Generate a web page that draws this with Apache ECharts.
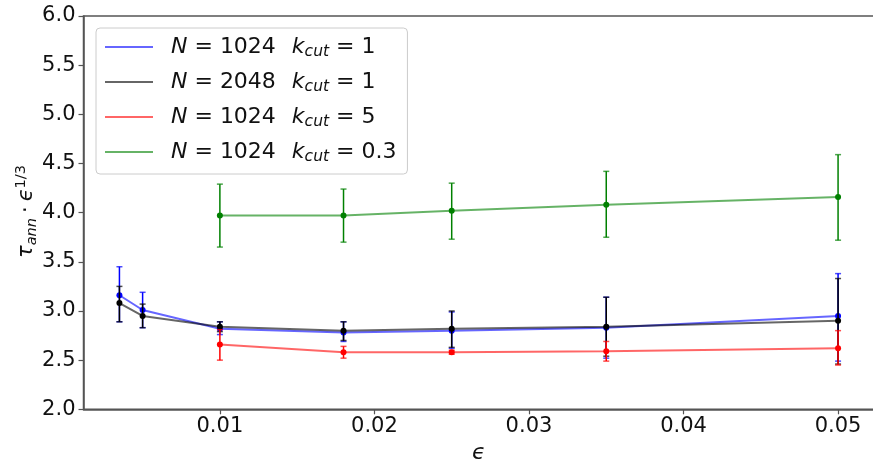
<!DOCTYPE html>
<html><head><meta charset="utf-8">
<script src="https://cdn.jsdelivr.net/npm/echarts@6/dist/echarts.min.js"></script>
<style>html,body{margin:0;padding:0;background:#fff}#c{width:873px;height:461px}</style>
</head><body><div id="c"></div>
<script>
// x values (epsilon)
const eps = [0.0035, 0.005, 0.01, 0.018, 0.025, 0.035, 0.05];
const epsShort = [0.01, 0.018, 0.025, 0.035, 0.05];
// N=1024, k_cut=1
const n1024k1 = [3.16, 3.01, 2.82, 2.78, 2.80, 2.83, 2.95];
const n1024k1Lo = [2.89, 2.83, 2.76, 2.69, 2.62, 2.52, 2.49];
const n1024k1Hi = [3.45, 3.19, 2.89, 2.89, 2.99, 3.14, 3.38];
// N=2048, k_cut=1
const n2048k1 = [3.08, 2.95, 2.84, 2.80, 2.82, 2.84, 2.90];
const n2048k1Lo = [2.89, 2.83, 2.79, 2.70, 2.63, 2.54, 2.46];
const n2048k1Hi = [3.25, 3.07, 2.89, 2.89, 3.00, 3.14, 3.33];
// N=1024, k_cut=5
const n1024k5 = [2.66, 2.58, 2.58, 2.59, 2.62];
const n1024k5Lo = [2.50, 2.52, 2.56, 2.49, 2.45];
const n1024k5Hi = [2.81, 2.64, 2.60, 2.69, 2.80];
// N=1024, k_cut=0.3
const n1024k03 = [3.97, 3.97, 4.02, 4.08, 4.16];
const n1024k03Lo = [3.65, 3.70, 3.73, 3.75, 3.72];
const n1024k03Hi = [4.29, 4.24, 4.30, 4.42, 4.59];
// tick labels
const xTicks = [0.01, 0.02, 0.03, 0.04, 0.05];
const yMin = 2.0, yMax = 6.0, yStep = 0.5;

const FONT = 'DejaVu Sans';
const defs = [
  {name:'a', label:'1024', k:'1', x:eps, y:n1024k1, lo:n1024k1Lo, hi:n1024k1Hi, mk:'#0000ff', ln:'rgba(0,0,255,0.6)', lg:'#6666ff', er:'#0000ff'},
  {name:'b', label:'2048', k:'1', x:eps, y:n2048k1, lo:n2048k1Lo, hi:n2048k1Hi, mk:'#000000', ln:'rgba(0,0,0,0.6)', lg:'#666666', er:'#000000'},
  {name:'c', label:'1024', k:'5', x:epsShort, y:n1024k5, lo:n1024k5Lo, hi:n1024k5Hi, mk:'#ff0000', ln:'rgba(255,0,0,0.6)', lg:'#ff6666', er:'#ff0000'},
  {name:'d', label:'1024', k:'0.3', x:epsShort, y:n1024k03, lo:n1024k03Lo, hi:n1024k03Hi, mk:'#008000', ln:'rgba(0,128,0,0.6)', lg:'#66b366', er:'#008000'}
];

function errRender(color){
  return function(params, api){
    const x = api.value(0), lo = api.value(1), hi = api.value(2);
    const pLo = api.coord([x, lo]), pHi = api.coord([x, hi]);
    const cw = 3;
    const st = {stroke: color, lineWidth: 1.5};
    const cst = {stroke: color, lineWidth: 1.5, opacity: 0.7};
    return {type:'group', children:[
      {type:'line', shape:{x1:pLo[0], y1:pLo[1], x2:pHi[0], y2:pHi[1]}, style: st},
      {type:'line', shape:{x1:pLo[0]-cw, y1:pLo[1], x2:pLo[0]+cw, y2:pLo[1]}, style: cst},
      {type:'line', shape:{x1:pHi[0]-cw, y1:pHi[1], x2:pHi[0]+cw, y2:pHi[1]}, style: cst}
    ]};
  };
}

const series = [];
defs.forEach((d, i) => {
  series.push({
    name: d.name + '_err', type: 'custom', renderItem: errRender(d.er),
    data: d.x.map((x, j) => [x, d.lo[j], d.hi[j]]),
    encode: {x: 0, y: [1, 2]}, z: 2 + i * 3, silent: true
  });
  series.push({
    name: d.name, type: 'line', data: d.x.map((x, j) => [x, d.y[j]]),
    symbol: 'circle', symbolSize: 6, showSymbol: true,
    lineStyle: {color: d.ln, width: 2},
    itemStyle: {color: d.mk},
    z: 3 + i * 3, animation: false
  });
});

const legendMap = {};
defs.forEach(d => legendMap[d.name] = d);

const chart = echarts.init(document.getElementById('c'), null, {renderer: 'canvas'});
chart.setOption({
  animation: false,
  backgroundColor: '#fff',
  grid: {left: 83.5, top: 16, width: 790.5, bottom: 51.7, show: true, borderColor: '#555', borderWidth: 1.5, backgroundColor: 'transparent', containLabel: false, outerBoundsMode: 'none'},
  xAxis: {
    type: 'value', min: 0.001175, max: 0.052325,
    splitLine: {show: false},
    axisLine: {show: true, lineStyle: {color: '#555', width: 1.5}},
    axisTick: {show: true, customValues: xTicks, length: 5, lineStyle: {color: '#555', width: 1.2}},
    axisLabel: {customValues: xTicks, formatter: v => v.toFixed(2), fontFamily: FONT, fontSize: 21, color: '#111', margin: 7},
    name: 'ϵ', nameLocation: 'middle', nameGap: 32,
    nameTextStyle: {fontFamily: FONT, fontSize: 22, fontStyle: 'italic', color: '#111'}
  },
  yAxis: {
    type: 'value', min: yMin, max: yMax, interval: yStep,
    splitLine: {show: false},
    axisLine: {show: true, lineStyle: {color: '#555', width: 1.5}},
    axisTick: {show: true, length: 5, lineStyle: {color: '#555', width: 1.2}},
    axisLabel: {formatter: v => v.toFixed(1), fontFamily: FONT, fontSize: 21, color: '#111', margin: 8}
  },
  legend: {
    show: true, orient: 'vertical', left: 96, top: 28,
    data: defs.map(d => ({name: d.name, itemStyle: {color: d.lg}})),
    icon: 'rect', itemWidth: 48, itemHeight: 2, itemGap: 9,
    backgroundColor: '#fff', borderColor: '#ccc', borderWidth: 1, borderRadius: 4,
    padding: [6, 11, 9, 9], selectedMode: false,
    formatter: function(n){
      const d = legendMap[n];
      return '{sp|}{i|N}{t| = ' + d.label + '}{g|}{i|k}{s|cut}{t| = ' + d.k + '}';
    },
    textStyle: {
      fontFamily: FONT, fontSize: 22, color: '#111', lineHeight: 26,
      rich: {
        sp: {width: 13},
        g: {width: 16},
        i: {fontFamily: FONT, fontSize: 22, fontStyle: 'italic', color: '#111', lineHeight: 26},
        t: {fontFamily: FONT, fontSize: 22, color: '#111', lineHeight: 26},
        s: {fontFamily: FONT, fontSize: 15.5, fontStyle: 'italic', color: '#111', lineHeight: 26, verticalAlign: 'bottom', padding: [9, 0, 0, 0]}
      }
    }
  },
  graphic: [{
    type: 'text', x: 27, y: 211.5, rotation: Math.PI / 2,
    style: {
      text: '{i|τ}{s|ann}{g|}{t|·}{g|}{i|ϵ}{p|1/3}',
      align: 'center', verticalAlign: 'middle',
      fontFamily: FONT, fontSize: 21, fill: '#111',
      rich: {
        g: {width: 5, lineHeight: 30},
        i: {fontFamily: FONT, fontSize: 21, fontStyle: 'italic', fill: '#111', lineHeight: 30},
        t: {fontFamily: FONT, fontSize: 21, fill: '#111', lineHeight: 30},
        s: {fontFamily: FONT, fontSize: 14.5, fontStyle: 'italic', fill: '#111', lineHeight: 30, padding: [11, 0, 0, 0]},
        p: {fontFamily: FONT, fontSize: 14.5, fill: '#111', lineHeight: 30, padding: [0, 0, 12, 0]}
      }
    }
  }],
  series: series
});
</script>
</body></html>
